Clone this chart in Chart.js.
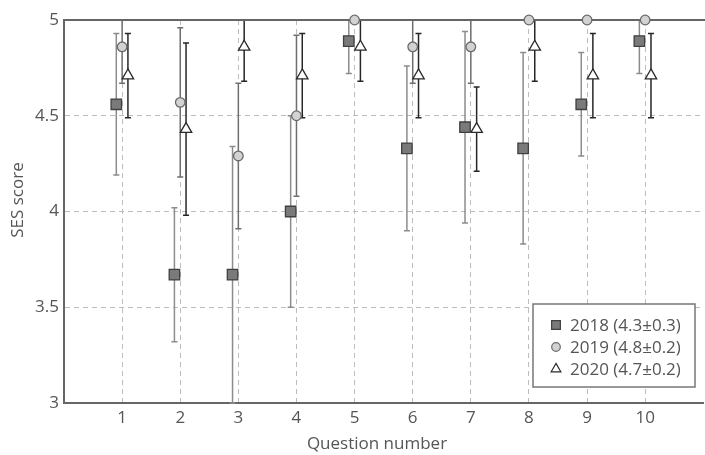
<!DOCTYPE html>
<html><head><meta charset="utf-8">
<script src="https://cdn.jsdelivr.net/npm/chart.js@4"></script>
<style>html,body{margin:0;padding:0;background:#fff;overflow:hidden;width:705px;height:455px}canvas{display:block}</style>
</head><body><canvas id="c" width="712" height="455"></canvas>
<script>
const questions=[1,2,3,4,5,6,7,8,9,10];
const yTicks=[3,3.5,4,4.5,5];
const yTickLabels=['3','3.5','4','4.5','5'];
const seriesLabels=['2018 (4.3±0.3)','2019 (4.8±0.2)','2020 (4.7±0.2)'];
const xTitle='Question number';
const yTitle='SES score';
const mean2018=[4.56,3.67,3.67,4.00,4.89,4.33,4.44,4.33,4.56,4.89];
const sd2018  =[0.37,0.35,0.67,0.50,0.17,0.43,0.50,0.50,0.27,0.17];
const mean2019=[4.86,4.57,4.29,4.50,5.00,4.86,4.86,5.00,5.00,5.00];
const sd2019  =[0.19,0.39,0.38,0.42,0.00,0.19,0.19,0.00,0.00,0.00];
const mean2020=[4.71,4.43,4.86,4.71,4.86,4.71,4.43,4.86,4.71,4.71];
const sd2020  =[0.22,0.45,0.18,0.22,0.18,0.22,0.22,0.18,0.22,0.22];

const FONT='"Open Sans", sans-serif';
const TXT='#555';
const DODGE=0.1;
const styles=[
  {pointStyle:'rect',radius:7.4,fill:'#7a7a7a',stroke:'#404040',bar:'#8c8c8c',lr:6.2},
  {pointStyle:'circle',radius:4.8,fill:'#d2d2d2',stroke:'#6a6a6a',bar:'#6e6e6e',lr:4.3},
  {pointStyle:'triangle',radius:6.6,fill:'#ffffff',stroke:'#2a2a2a',bar:'#262626',lr:5.6}
];
const means=[mean2018,mean2019,mean2020];
const sds=[sd2018,sd2019,sd2020];
const offsets=[-DODGE,0,DODGE];

const datasets=means.map((m,i)=>({
  label:seriesLabels[i],
  data:questions.map((q,j)=>({x:q+offsets[i],y:m[j]})),
  sd:sds[i],
  showLine:false,
  pointStyle:styles[i].pointStyle,
  pointRadius:styles[i].radius,
  pointHoverRadius:styles[i].radius,
  pointBackgroundColor:styles[i].fill,
  pointBorderColor:styles[i].stroke,
  pointBorderWidth:1.3,
  clip:false,
  barColor:styles[i].bar
}));

const errorBars={
  id:'errorBars',
  beforeDatasetsDraw(chart){
    const {ctx,chartArea:a,scales:{y}}=chart;
    ctx.save();
    ctx.beginPath();ctx.rect(a.left,a.top-1,a.right-a.left,a.bottom-a.top+2);ctx.clip();
    chart.data.datasets.forEach((ds,i)=>{
      const meta=chart.getDatasetMeta(i);
      ctx.strokeStyle=ds.barColor;ctx.lineWidth=1.5;
      meta.data.forEach((pt,j)=>{
        const s=ds.sd[j];if(!s)return;
        const v=ds.data[j].y;
        const yt=y.getPixelForValue(v+s),yb=y.getPixelForValue(v-s);
        const x=pt.x;
        ctx.beginPath();ctx.moveTo(x,yt);ctx.lineTo(x,yb);
        ctx.moveTo(x-3,yt);ctx.lineTo(x+3,yt);
        ctx.moveTo(x-3,yb);ctx.lineTo(x+3,yb);
        ctx.stroke();
      });
    });
    ctx.restore();
  }
};

const frame={
  id:'frame',
  beforeDatasetsDraw(chart){
    const {ctx,chartArea:a}=chart;
    ctx.save();ctx.strokeStyle='#666';ctx.lineWidth=2;
    ctx.beginPath();ctx.moveTo(a.left,a.top);ctx.lineTo(a.right+10,a.top);ctx.stroke();
    ctx.restore();
  },
  afterDraw(chart){
    const ctx=chart.ctx;
    ctx.save();
    ctx.font='17px '+FONT;ctx.fillStyle=TXT;ctx.textAlign='center';ctx.textBaseline='middle';
    ctx.fillText(xTitle,377,444);
    ctx.translate(18,200);ctx.rotate(-Math.PI/2);
    ctx.fillText(yTitle,0,0);
    ctx.restore();
  }
};

const legendBox={
  id:'legendBox',
  afterDraw(chart){
    const ctx=chart.ctx;
    const bx=533,by=304,bw=162,bh=83;
    ctx.save();
    ctx.fillStyle='#fff';ctx.fillRect(bx,by,bw,bh);
    ctx.strokeStyle='#777';ctx.lineWidth=1.5;ctx.strokeRect(bx,by,bw,bh);
    ctx.font='17px '+FONT;ctx.textBaseline='middle';ctx.textAlign='left';
    const rows=[325,347,369];
    chart.data.datasets.forEach((ds,i)=>{
      ctx.fillStyle=styles[i].fill;ctx.strokeStyle=styles[i].stroke;ctx.lineWidth=1.2;
      Chart.helpers.drawPoint(ctx,{pointStyle:styles[i].pointStyle,radius:styles[i].lr,borderWidth:1.2},556,rows[i]);
      ctx.fillStyle=TXT;
      ctx.fillText(ds.label,570,rows[i]+1);
    });
    ctx.restore();
  }
};

new Chart(document.getElementById('c'),{
  type:'scatter',
  data:{datasets},
  plugins:[errorBars,frame,legendBox],
  options:{
    responsive:false,animation:false,
    layout:{padding:{top:20,right:4.5,left:0,bottom:0}},
    plugins:{legend:{display:false},tooltip:{enabled:false}},
    scales:{
      x:{
        type:'linear',min:0,max:11,
        afterBuildTicks:(ax)=>{ax.ticks=questions.map(v=>({value:v}));},
        afterFit:(ax)=>{ax.height=52;},
        ticks:{font:{family:FONT,size:17},color:TXT,padding:5,callback:(v)=>String(v)},
        grid:{drawTicks:false,color:'#bdbdbd',lineWidth:1},
        border:{display:true,color:'#666',width:2,dash:[5,4]},
        title:{display:false}
      },
      y:{
        type:'linear',min:3,max:5,
        afterBuildTicks:(ax)=>{ax.ticks=yTicks.map(v=>({value:v}));},
        afterFit:(ax)=>{ax.width=64;},
        ticks:{font:{family:FONT,size:17},color:TXT,padding:5,callback:(v)=>yTickLabels[yTicks.indexOf(v)]},
        grid:{drawTicks:false,color:(c)=>(c.tick&&(c.tick.value===3||c.tick.value===5))?'rgba(0,0,0,0)':'#bdbdbd',lineWidth:1},
        border:{display:true,color:'#666',width:2,dash:[5,4]},
        title:{display:false}
      }
    }
  }
});
</script></body></html>
